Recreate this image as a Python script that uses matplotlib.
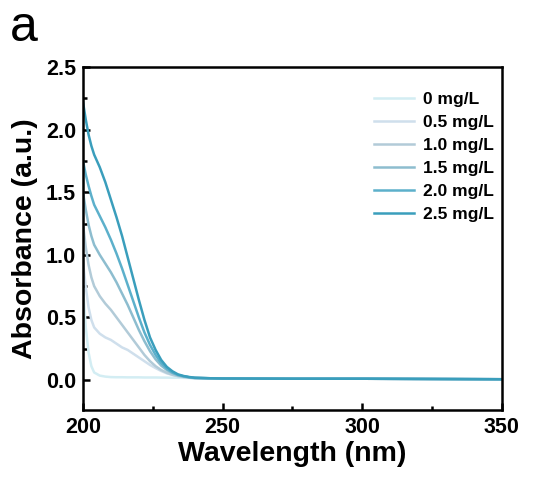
import numpy as np
import matplotlib.pyplot as plt
from matplotlib.ticker import MultipleLocator

plt.rcParams['font.family'] = ['Liberation Sans', 'DejaVu Sans']

wavelength = [200, 201, 202, 203, 204, 206, 208, 210, 212, 214, 216, 218, 220, 222,
              224, 226, 228, 230, 232, 234, 236, 238, 240, 245, 250, 275, 300, 325, 350]

tail = [0.014, 0.012, 0.01, 0.01, 0.008, 0.006]
abs_0 = [0.75, 0.42, 0.22, 0.11, 0.06, 0.035, 0.027, 0.023, 0.022, 0.022, 0.021, 0.021,
         0.021, 0.02, 0.02, 0.02, 0.019, 0.019, 0.018, 0.018, 0.017, 0.016, 0.015] + tail
abs_05 = [0.95, 0.74, 0.58, 0.48, 0.42, 0.37, 0.34, 0.32, 0.29, 0.26, 0.24, 0.21, 0.18,
          0.15, 0.12, 0.095, 0.072, 0.053, 0.04, 0.03, 0.023, 0.018, 0.015] + tail
abs_10 = [1.25, 1.06, 0.92, 0.82, 0.75, 0.67, 0.61, 0.56, 0.50, 0.44, 0.38, 0.32, 0.26,
          0.20, 0.15, 0.11, 0.08, 0.058, 0.042, 0.031, 0.024, 0.019, 0.015] + tail
abs_15 = [1.50, 1.36, 1.24, 1.15, 1.08, 1.00, 0.93, 0.86, 0.78, 0.69, 0.60, 0.50, 0.40,
          0.31, 0.23, 0.165, 0.115, 0.08, 0.055, 0.038, 0.028, 0.021, 0.016] + tail
abs_20 = [1.75, 1.64, 1.55, 1.47, 1.40, 1.31, 1.22, 1.12, 1.01, 0.89, 0.76, 0.63, 0.50,
          0.38, 0.28, 0.20, 0.135, 0.09, 0.06, 0.04, 0.03, 0.022, 0.017] + tail
abs_25 = [2.22, 2.08, 1.96, 1.87, 1.80, 1.70, 1.58, 1.44, 1.30, 1.15, 0.98, 0.81, 0.64,
          0.48, 0.34, 0.24, 0.16, 0.105, 0.07, 0.045, 0.032, 0.024, 0.018] + tail

labels = ['0 mg/L', '0.5 mg/L', '1.0 mg/L', '1.5 mg/L', '2.0 mg/L', '2.5 mg/L']
colors = ['#d3edf3', '#cfdfec', '#b2cbd8', '#8dbdcf', '#5cb0cb', '#3a9ebc']
series = [abs_0, abs_05, abs_10, abs_15, abs_20, abs_25]

fig = plt.figure(figsize=(5.33, 4.79), dpi=100)
ax = fig.add_axes([0.1557, 0.144, 0.786, 0.716])

for y, lab, c in zip(series, labels, colors):
    ax.plot(wavelength, y, color=c, lw=1.8, label=lab)

ax.set_xlim(200, 350)
ax.set_ylim(-0.24, 2.5)
ax.xaxis.set_major_locator(MultipleLocator(50))
ax.xaxis.set_minor_locator(MultipleLocator(25))
ax.yaxis.set_major_locator(MultipleLocator(0.5))
ax.yaxis.set_minor_locator(MultipleLocator(0.25))
ax.tick_params(which='both', direction='in', width=1.8, top=False, right=False)
ax.tick_params(which='major', length=5, labelsize=15.5, pad=5)
ax.tick_params(which='minor', length=3)
for lab in ax.get_xticklabels() + ax.get_yticklabels():
    lab.set_fontweight('bold')
for s in ax.spines.values():
    s.set_linewidth(1.8)

ax.set_xlabel('Wavelength (nm)', fontsize=20.5, fontweight='bold', labelpad=2)
ax.set_ylabel('Absorbance (a.u.)', fontsize=20.5, fontweight='bold', labelpad=6)

leg = ax.legend(loc='upper right', bbox_to_anchor=(1.018, 0.972), frameon=False,
                prop={'weight': 'bold', 'size': 12.5}, handlelength=2.3,
                handletextpad=0.5, labelspacing=0.45)

fig.text(0.018, 0.915, 'a', fontsize=36)

fig.savefig('out.png', dpi=100)
